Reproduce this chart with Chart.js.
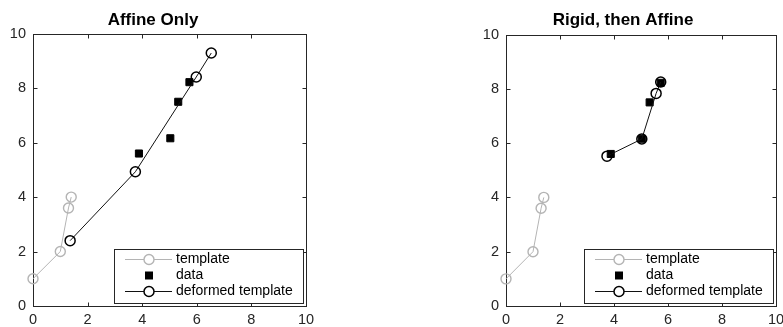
<!DOCTYPE html>
<html>
<head>
<meta charset="utf-8">
<script src="https://cdn.jsdelivr.net/npm/chart.js@4.4.1/dist/chart.umd.min.js"></script>
<style>
  html, body { margin: 0; padding: 0; background: #fff; overflow: hidden; }
  #wrap { position: relative; width: 783px; height: 327px; overflow: hidden; }
  canvas { position: absolute; top: 0; }
  #affine_chart { left: 0; }
  #rigid_chart { left: 470px; }
</style>
</head>
<body>
<div id="wrap">
  <canvas id="affine_chart" width="330" height="327"></canvas>
  <canvas id="rigid_chart" width="330" height="327"></canvas>
</div>
<script>
// TEMPLATE (same in both panels)
const template_x = [0, 1, 1.3, 1.4];
const template_y = [1, 2, 3.6, 4];

// DATA POINTS
const data_x = [3.88, 5.03, 5.32, 5.73];
const data_y = [5.6, 6.16, 7.5, 8.22];

// DEFORMED TEMPLATE, LEFT = affine only, RIGHT = rigid then affine
const affine_x = [1.36, 3.75, 5.98, 6.53];
const affine_y = [2.4, 4.93, 8.41, 9.29];
const rigid_x = [3.74, 5.03, 5.56, 5.73];
const rigid_y = [5.52, 6.15, 7.83, 8.25];

const axis_ticks = [0, 2, 4, 6, 8, 10];
const legend_labels = ["template", "data", "deformed template"];

const AXIS_COLOR = "#262626";
const FONT = "'Liberation Sans', Arial, Helvetica, sans-serif";

function toPoints(xs, ys) {
  return xs.map((x, i) => ({ x: x, y: ys[i] }));
}

// box round the plot with ticks pointing inside
const axes_box = {
  id: "axes_box",
  beforeDatasetsDraw(chart) {
    const { ctx, chartArea: a, scales } = chart;
    const L = Math.round(a.left) + 0.5, R = Math.round(a.right) + 0.5;
    const T = Math.round(a.top) + 0.5, B = Math.round(a.bottom) + 0.5;
    ctx.save();
    ctx.strokeStyle = AXIS_COLOR;
    ctx.lineWidth = 1;
    ctx.strokeRect(L, T, R - L, B - T);
    ctx.beginPath();
    scales.x.ticks.forEach(t => {
      const px = Math.round(scales.x.getPixelForValue(t.value)) + 0.5;
      ctx.moveTo(px, B); ctx.lineTo(px, B - 4);
      ctx.moveTo(px, T); ctx.lineTo(px, T + 4);
    });
    scales.y.ticks.forEach(t => {
      const py = Math.round(scales.y.getPixelForValue(t.value)) + 0.5;
      ctx.moveTo(L, py); ctx.lineTo(L + 4, py);
      ctx.moveTo(R, py); ctx.lineTo(R - 4, py);
    });
    ctx.stroke();
    ctx.restore();
  }
};

// legend sitting inside the lower right corner
const inner_legend = {
  id: "inner_legend",
  afterDraw(chart) {
    const { ctx, chartArea: a } = chart;
    const w = 189, h = 54;
    const left = Math.round(a.right - 3 - w), top = Math.round(a.bottom - 3 - h);
    ctx.save();
    ctx.fillStyle = "#fff";
    ctx.fillRect(left, top, w, h);
    ctx.strokeStyle = AXIS_COLOR;
    ctx.lineWidth = 1;
    ctx.strokeRect(left + 0.5, top + 0.5, w, h);

    const order = ["template", "data", "deformed"];
    order.forEach((key, i) => {
      const ds = chart.data.datasets.find(d => d.key === key);
      const y = top + 10.5 + i * 16;
      const mx = left + 35;
      if (ds.showLine) {
        ctx.strokeStyle = ds.borderColor;
        ctx.lineWidth = ds.borderWidth;
        ctx.beginPath();
        ctx.moveTo(left + 11, y);
        ctx.lineTo(left + 58, y);
        ctx.stroke();
      }
      if (ds.pointStyle === "rect") {
        ctx.fillStyle = ds.pointBackgroundColor;
        ctx.fillRect(mx - 4, y - 4, 8, 8);
      } else {
        ctx.fillStyle = "#fff";
        ctx.strokeStyle = ds.pointBorderColor;
        ctx.lineWidth = ds.pointBorderWidth;
        ctx.beginPath();
        ctx.arc(mx, y, ds.pointRadius, 0, Math.PI * 2);
        ctx.fill();
        ctx.stroke();
      }
      ctx.fillStyle = "#000";
      ctx.font = "14px " + FONT;
      ctx.textBaseline = "middle";
      ctx.textAlign = "left";
      ctx.fillText(legend_labels[i], left + 62, y);
    });
    ctx.restore();
  }
};

function makeChart(canvas_id, title, def_x, def_y, y_axis_width, title_top) {
  const ctx = document.getElementById(canvas_id).getContext("2d");
  const scale = (isY) => ({
    type: "linear",
    min: 0,
    max: 10,
    grid: { display: false, drawTicks: false },
    border: { display: false },
    ticks: {
      color: AXIS_COLOR,
      font: { family: FONT, size: 14.5 },
      padding: isY ? 7 : 5,
      maxRotation: 0,
    },
    afterBuildTicks: (s) => { s.ticks = axis_ticks.map(v => ({ value: v })); },
    afterFit: (s) => {
      if (isY) s.width = y_axis_width;
      else s.height = 21;
    },
  });

  return new Chart(ctx, {
    type: "scatter",
    data: {
      datasets: [
        {
          key: "template",
          data: toPoints(template_x, template_y),
          showLine: true,
          borderColor: "#b4b4b4",
          borderWidth: 1,
          pointStyle: "circle",
          pointRadius: 5,
          pointBorderWidth: 1.4,
          pointBorderColor: "#b4b4b4",
          pointBackgroundColor: "rgba(255,255,255,0)",
          order: 2,
          clip: false,
        },
        {
          key: "data",
          data: toPoints(data_x, data_y),
          showLine: false,
          pointStyle: "rect",
          pointRadius: 5,
          pointBorderWidth: 1,
          pointBorderColor: "#000",
          pointBackgroundColor: "#000",
          order: 1,
          clip: false,
        },
        {
          key: "deformed",
          data: toPoints(def_x, def_y),
          showLine: true,
          borderColor: "#111",
          borderWidth: 1,
          pointStyle: "circle",
          pointRadius: 5,
          pointBorderWidth: 1.5,
          pointBorderColor: "#000",
          pointBackgroundColor: "rgba(255,255,255,0)",
          order: 0,
          clip: false,
        },
      ],
    },
    options: {
      responsive: false,
      animation: false,
      events: [],
      layout: { padding: { left: 0, right: 24, top: 0, bottom: 0 } },
      plugins: {
        legend: { display: false },
        tooltip: { enabled: false },
        title: {
          display: true,
          text: title,
          color: "#000",
          font: { family: FONT, size: 17, weight: "bold" },
          padding: { top: title_top, bottom: 3.5 },
        },
      },
      scales: { x: scale(false), y: scale(true) },
    },
    plugins: [axes_box, inner_legend],
  });
}

makeChart("affine_chart", "Affine Only", affine_x, affine_y, 33, 9.8);
makeChart("rigid_chart", "Rigid, then Affine", rigid_x, rigid_y, 36, 10.6);
</script>
</body>
</html>
